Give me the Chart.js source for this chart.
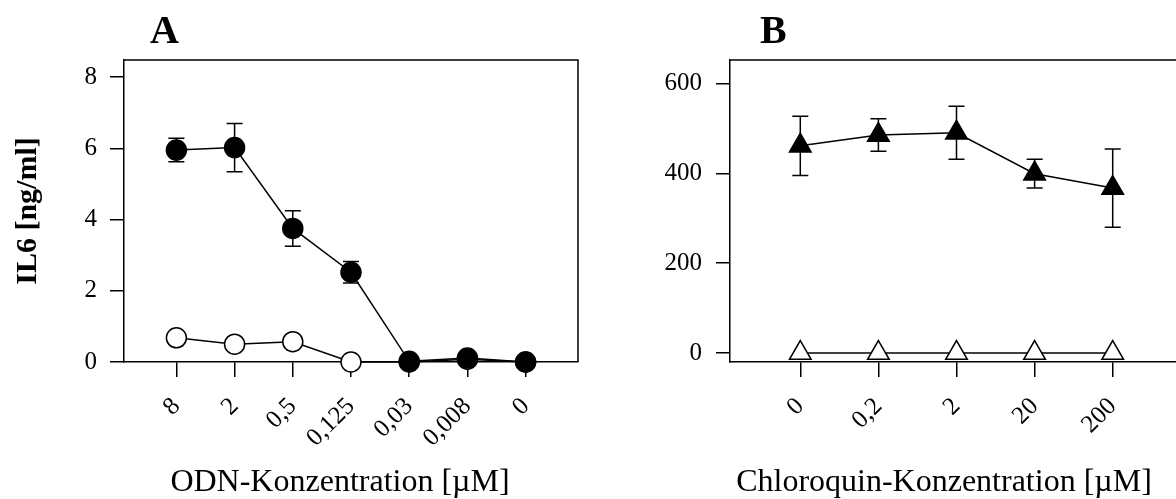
<!DOCTYPE html>
<html lang="de">
<head>
<meta charset="UTF-8">
<title>IL6 – ODN / Chloroquin</title>
<script src="https://cdn.jsdelivr.net/npm/chart.js"></script>
<style>
  html, body { margin: 0; padding: 0; background: #fff; overflow: hidden; }
  #wrap { position: relative; width: 1176px; height: 499px; overflow: hidden; }
  #wrap canvas { position: absolute; top: 0; }
</style>
</head>
<body>
<div id="wrap">
  <canvas id="chartA" width="600" height="499" style="left:0"></canvas>
  <canvas id="chartB" width="600" height="499" style="left:600px"></canvas>
</div>
<script>
// Panel A: IL6 vs ODN concentration
const odnLabels = ['8', '2', '0,5', '0,125', '0,03', '0,008', '0'];
const odnFilled = [5.95, 6.02, 3.75, 2.52, 0.02, 0.11, 0.0];
const odnFilledSd = [0.33, 0.68, 0.50, 0.30, 0, 0, 0];
const odnOpen = [0.68, 0.50, 0.57, 0.0, 0.0, 0.08, 0.0];
const odnYTicks = [0, 2, 4, 6, 8];

// Panel B: IL6 vs chloroquine concentration
const cqLabels = ['0', '0,2', '2', '20', '200'];
const cqFilled = [461, 485, 490, 399, 367];
const cqFilledSd = [66, 36, 59, 32, 87];
const cqOpen = [0, 0, 0, 0, 0];
const cqYTicks = [0, 200, 400, 600];

const SERIF = "'Liberation Serif', 'Times New Roman', serif";

const toXY = arr => arr.map((v, i) => ({ x: i, y: v }));

// vertical error bars with caps, drawn under the markers
const errorBars = {
  id: 'errorBars',
  beforeDatasetsDraw(chart) {
    const ctx = chart.ctx;
    const yScale = chart.scales.y;
    chart.data.datasets.forEach((ds, i) => {
      if (!ds.errors) return;
      const meta = chart.getDatasetMeta(i);
      ctx.save();
      ctx.strokeStyle = '#000';
      ctx.lineWidth = 1.5;
      meta.data.forEach((pt, j) => {
        const e = ds.errors[j];
        if (!e) return;
        const v = ds.data[j].y;
        const top = yScale.getPixelForValue(v + e);
        const bot = yScale.getPixelForValue(v - e);
        ctx.beginPath();
        ctx.moveTo(pt.x, top); ctx.lineTo(pt.x, bot);
        ctx.moveTo(pt.x - 8, top); ctx.lineTo(pt.x + 8, top);
        ctx.moveTo(pt.x - 8, bot); ctx.lineTo(pt.x + 8, bot);
        ctx.stroke();
      });
      ctx.restore();
    });
  }
};

// frame around the plot, panel letter and x axis title
const panelDecor = {
  id: 'panelDecor',
  afterDraw(chart, args, opts) {
    const ctx = chart.ctx;
    const a = chart.chartArea;
    ctx.save();
    ctx.strokeStyle = '#000';
    ctx.lineWidth = 1.5;
    ctx.beginPath();
    ctx.moveTo(a.left, a.top); ctx.lineTo(a.right, a.top); ctx.lineTo(a.right, a.bottom);
    ctx.stroke();
    ctx.fillStyle = '#000';
    ctx.textBaseline = 'alphabetic';
    ctx.textAlign = 'left';
    ctx.font = 'bold 40px ' + SERIF;
    ctx.fillText(opts.letter, opts.letterX, 43);
    ctx.textAlign = 'center';
    ctx.font = '32px ' + SERIF;
    ctx.fillText(opts.xTitle, opts.xTitleX, 491);
    ctx.restore();
  }
};

function makePanel(id, cfg) {
  return new Chart(document.getElementById(id), {
    type: 'line',
    data: {
      datasets: [
        {
          data: toXY(cfg.filled),
          errors: cfg.filledSd,
          clip: false,
          borderColor: '#000',
          borderWidth: 1.5,
          backgroundColor: '#000',
          pointStyle: cfg.shape,
          pointRadius: cfg.radius,
          pointBorderWidth: 1.5,
          pointBackgroundColor: '#000',
          pointBorderColor: '#000'
        },
        {
          data: toXY(cfg.open),
          clip: false,
          borderColor: '#000',
          borderWidth: 1.5,
          backgroundColor: '#fff',
          pointStyle: cfg.shape,
          pointRadius: cfg.radius,
          pointBorderWidth: 1.5,
          pointBackgroundColor: '#fff',
          pointBorderColor: '#000'
        }
      ]
    },
    options: {
      responsive: false,
      animation: false,
      layout: { padding: { top: 60, left: 0, right: cfg.padRight, bottom: 0 } },
      plugins: {
        legend: { display: false },
        tooltip: { enabled: false },
        panelDecor: { letter: cfg.letter, letterX: cfg.letterX, xTitle: cfg.xTitle, xTitleX: cfg.xTitleX }
      },
      scales: {
        x: {
          type: 'linear',
          min: -0.9,
          max: cfg.labels.length - 1 + 0.9,
          afterBuildTicks: s => { s.ticks = cfg.labels.map((l, i) => ({ value: i })); },
          afterFit: s => { s.height = 137; },
          ticks: {
            minRotation: 45,
            maxRotation: 45,
            padding: 15,
            color: '#000',
            font: { family: SERIF, size: 25 },
            callback: v => cfg.labels[v]
          },
          grid: { drawOnChartArea: false, drawTicks: true, tickLength: 15, color: '#000', lineWidth: 1.5 },
          border: { display: true, color: '#000', width: 1.5 }
        },
        y: {
          min: cfg.yMin,
          max: cfg.yMax,
          afterBuildTicks: s => { s.ticks = cfg.yTicks.map(v => ({ value: v })); },
          afterFit: s => { s.width = cfg.yWidth; },
          ticks: {
            padding: cfg.yPad,
            color: '#000',
            font: { family: SERIF, size: 25 }
          },
          title: {
            display: cfg.yTitle !== '',
            text: cfg.yTitle,
            color: '#000',
            font: { family: SERIF, size: 30, weight: 'bold' },
            padding: { top: 10, bottom: 0 }
          },
          grid: { drawOnChartArea: false, drawTicks: true, tickLength: 14, color: '#000', lineWidth: 1.5 },
          border: { display: true, color: '#000', width: 1.5 }
        }
      }
    },
    plugins: [errorBars, panelDecor]
  });
}

makePanel('chartA', {
  labels: odnLabels, filled: odnFilled, filledSd: odnFilledSd, open: odnOpen,
  yTicks: odnYTicks, yMin: 0, yMax: 8.48,
  shape: 'circle', radius: 10,
  yWidth: 124, yPad: 13, yTitle: 'IL6 [ng/ml]', padRight: 22,
  letter: 'A', letterX: 150, xTitle: 'ODN-Konzentration [µM]', xTitleX: 340
});

makePanel('chartB', {
  labels: cqLabels, filled: cqFilled, filledSd: cqFilledSd, open: cqOpen,
  yTicks: cqYTicks, yMin: -20, yMax: 652,
  shape: 'triangle', radius: 12.5,
  yWidth: 130, yPad: 14, yTitle: '', padRight: 17,
  letter: 'B', letterX: 160, xTitle: 'Chloroquin-Konzentration [µM]', xTitleX: 344
});
</script>
</body>
</html>
